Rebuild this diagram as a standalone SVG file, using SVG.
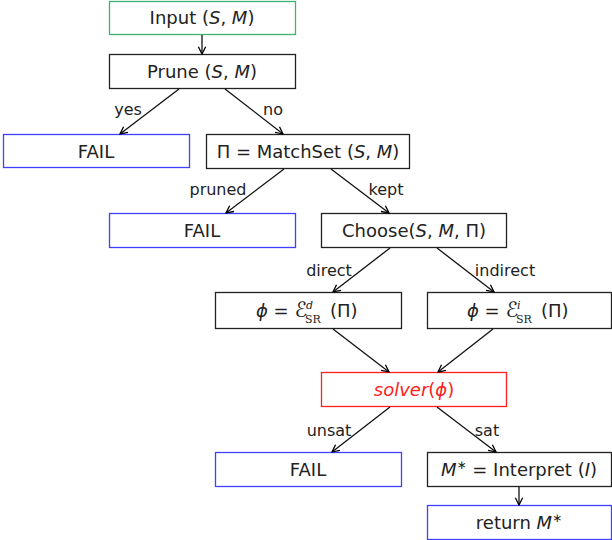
<svg xmlns="http://www.w3.org/2000/svg" width="612" height="540" viewBox="0 0 612 540">
<defs>
<marker id="ah" viewBox="0 0 10 10" refX="9" refY="5" markerWidth="7" markerHeight="7" orient="auto">
<path d="M1,1 L9,5 L1,9" fill="none" stroke="#000" stroke-width="1.4"/>
</marker>
</defs>
<style>
.box{fill:#fff;stroke:#222;stroke-width:1.3}
.g{stroke:#3cb371}
.b{stroke:#4040ff}
.r{stroke:#ff2020}
.t{font-family:"DejaVu Sans","Liberation Sans",sans-serif;font-size:18px;fill:#222;text-anchor:middle}
.l{font-family:"DejaVu Sans","Liberation Sans",sans-serif;font-size:16px;fill:#222;text-anchor:middle}
.i{font-style:italic}
.s{font-family:"DejaVu Serif",serif;font-size:11px;fill:#222}
.c line{stroke:#111;stroke-width:1.3;marker-end:url(#ah)}
</style>
<g id="input"><rect class="box g" x="109.5" y="1.5" width="186" height="33"/><text class="t" x="202" y="24">Input (<tspan class="i">S</tspan>, <tspan class="i">M</tspan>)</text></g>
<g id="prune"><rect class="box" x="109.5" y="54.5" width="186" height="34"/><text class="t" x="202" y="78">Prune (<tspan class="i">S</tspan>, <tspan class="i">M</tspan>)</text></g>
<g id="fail1"><rect class="box b" x="3.5" y="134.5" width="186" height="33"/><text class="t" x="96" y="158">FAIL</text></g>
<g id="matchset"><rect class="box" x="206.5" y="134.5" width="203" height="34"/><text class="t" x="308" y="158">Π = MatchSet (<tspan class="i">S</tspan>, <tspan class="i">M</tspan>)</text></g>
<g id="fail2"><rect class="box b" x="109.5" y="213.5" width="186" height="34"/><text class="t" x="202" y="237">FAIL</text></g>
<g id="choose"><rect class="box" x="321.5" y="213.5" width="185" height="34"/><text class="t" x="414" y="237">Choose(<tspan class="i">S</tspan>, <tspan class="i">M</tspan>, Π)</text></g>
<g id="phid"><rect class="box" x="215.5" y="292.5" width="186" height="36"/>
<text class="t" x="256" y="317" style="text-anchor:start"><tspan class="i">ϕ</tspan> = <tspan class="i" font-size="21">ℰ</tspan></text>
<text class="s i" x="306" y="309">d</text><text class="s" x="305" y="323">SR</text>
<text class="t" x="330" y="317" style="text-anchor:start">(Π)</text></g>
<g id="phii"><rect class="box" x="427.5" y="292.5" width="184" height="36"/>
<text class="t" x="467" y="317" style="text-anchor:start"><tspan class="i">ϕ</tspan> = <tspan class="i" font-size="21">ℰ</tspan></text>
<text class="s i" x="517" y="309">i</text><text class="s" x="516" y="323">SR</text>
<text class="t" x="541" y="317" style="text-anchor:start">(Π)</text></g>
<g id="solver"><rect class="box r" x="321.5" y="372.5" width="185" height="34"/><text class="t" x="414" y="396" style="fill:#ff2020"><tspan class="i">solver</tspan>(<tspan class="i">ϕ</tspan>)</text></g>
<g id="fail3"><rect class="box b" x="215.5" y="452.5" width="186" height="34"/><text class="t" x="308" y="476">FAIL</text></g>
<g id="interpret"><rect class="box" x="427.5" y="452.5" width="184" height="34"/><text class="t" x="519" y="476"><tspan class="i">M</tspan><tspan font-size="12" dy="-7">∗</tspan><tspan dy="7"> = Interpret (</tspan><tspan class="i">I</tspan>)</text></g>
<g id="return"><rect class="box b" x="427.5" y="505.5" width="184" height="34"/><text class="t" x="519" y="529">return <tspan class="i">M</tspan><tspan font-size="12" dy="-7">∗</tspan></text></g>
<g id="connectors" class="c">
<line x1="202" y1="35" x2="202" y2="54"/>
<line x1="179" y1="89" x2="120" y2="134"/>
<line x1="225" y1="89" x2="283" y2="134"/>
<line x1="284" y1="169" x2="226" y2="213"/>
<line x1="331" y1="169" x2="389" y2="213"/>
<line x1="390" y1="248" x2="333" y2="292"/>
<line x1="437" y1="248" x2="494" y2="292"/>
<line x1="333" y1="329" x2="389" y2="372"/>
<line x1="493" y1="329" x2="438" y2="372"/>
<line x1="390" y1="407" x2="332" y2="452"/>
<line x1="437" y1="407" x2="496" y2="452"/>
<line x1="519" y1="487" x2="519" y2="505"/>
</g>
<g id="labels">
<text class="l" x="128" y="115">yes</text>
<text class="l" x="273" y="115">no</text>
<text class="l" x="218" y="195">pruned</text>
<text class="l" x="386" y="195">kept</text>
<text class="l" x="329" y="276">direct</text>
<text class="l" x="505" y="276">indirect</text>
<text class="l" x="329" y="436">unsat</text>
<text class="l" x="487" y="436">sat</text>
</g>
</svg>
